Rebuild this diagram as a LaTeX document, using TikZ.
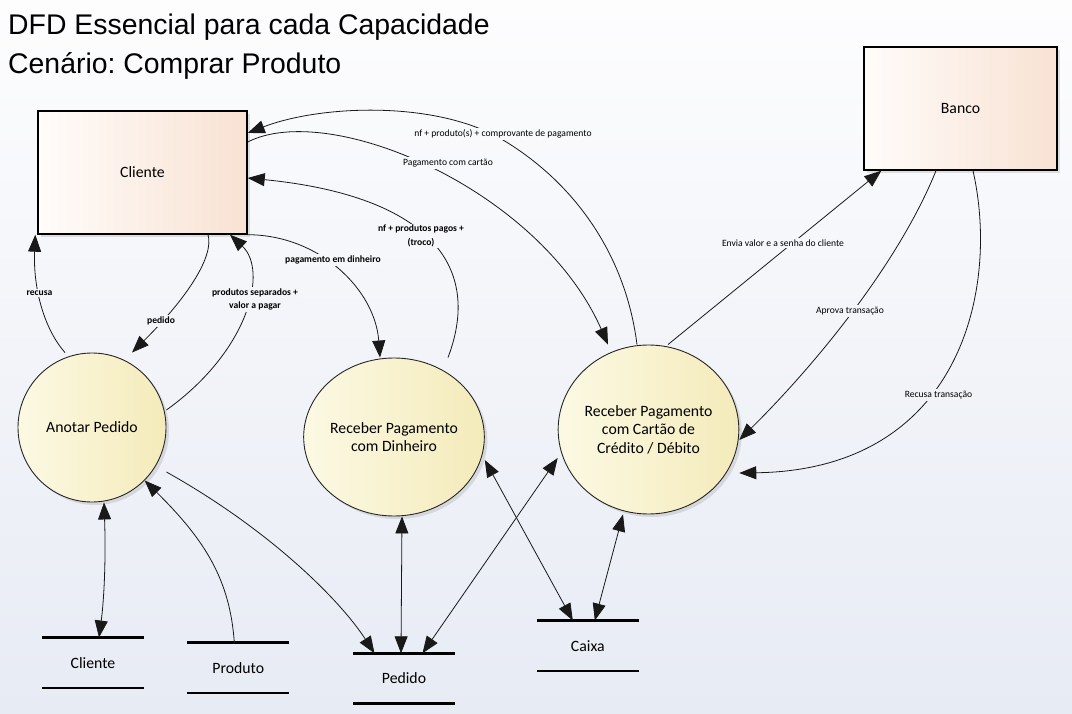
\documentclass[tikz,border=0pt]{standalone}
\usepackage{fontspec}
\setmainfont{Carlito}
\newfontfamily\titlefont{Liberation Sans}
\usetikzlibrary{arrows.meta,shadows,shapes.geometric}
\definecolor{bgT}{HTML}{FDFDFE}
\definecolor{bgB}{HTML}{E7EBF4}
\definecolor{boxL}{HTML}{FFFCFA}
\definecolor{boxR}{HTML}{F8E2D3}
\definecolor{cirL}{HTML}{FCF9E4}
\definecolor{cirR}{HTML}{F4EBBA}
\frenchspacing
\begin{document}
\begin{tikzpicture}[x=1pt,y=-1pt,
  ent/.style={draw=black, line width=1.4pt, rectangle, left color=boxL, right color=boxR,
    inner sep=0, font=\fontsize{15.75}{18.5}\selectfont,
    drop shadow={opacity=0.22,shadow xshift=3pt,shadow yshift=-3pt}},
  proc/.style={draw=black!85, line width=0.9pt, ellipse, left color=cirL, right color=cirR,
    inner sep=0, align=center, font=\fontsize{15.75}{18.5}\selectfont,
    drop shadow={opacity=0.22,shadow xshift=3pt,shadow yshift=-3pt}},
  store/.style={inner sep=0, minimum width=101.5pt, minimum height=50pt,
    font=\fontsize{15.75}{18.5}\selectfont},
  sline/.style={line width=2.8pt, line cap=butt},
  flow/.style={line width=0.8pt, draw=black!90},
  arr/.style={flow, -{Triangle[length=17pt,width=13pt]}},
  darr/.style={flow, {Triangle[length=17pt,width=13pt]}-{Triangle[length=17pt,width=13pt]}},
  lbl/.style={font=\fontsize{9.6}{13}\selectfont, inner sep=1.5pt, fill=bgB!#1!bgT, align=center},
  lblb/.style={lbl=#1, font=\bfseries\fontsize{9.6}{13.5}\selectfont},
]
\useasboundingbox (0,0) rectangle (1072,714);
\shade[top color=bgT, bottom color=bgB] (0,0) rectangle (1072,714);

% titles
\node[anchor=base west, inner sep=0, font=\titlefont\fontsize{28.4}{35}\selectfont] (t1) at (8,35) {DFD Essencial para cada Capacidade};
\node[anchor=base west, inner sep=0, font=\titlefont\fontsize{28.4}{35}\selectfont] (t2) at (8,74) {Cenário: Comprar Produto};

% entities
\node[ent, minimum width=209pt, minimum height=123pt] (cli) at (142.5,172.5) {Cliente};
\node[ent, minimum width=193pt, minimum height=123pt] (banco) at (960.5,108.5) {Banco};

% processes
\node[proc, minimum width=148pt, minimum height=149pt] (anot) at (92,427.5) {Anotar Pedido};
\node[proc, minimum width=154pt, minimum height=158pt] (din) at (394,437) {Receber Pagamento\\com Dinheiro};
\node[proc, minimum width=175pt, minimum height=169pt] (cart) at (648.5,429.5) {Receber Pagamento\\com Cartão de\\Crédito / Débito};

% stores
\node[store] (sCli) at (93,662.7) {Cliente};
\node[store] (sProd) at (238.3,667.7) {Produto};
\node[store] (sPed) at (404,678.5) {Pedido};
\node[store] (sCai) at (587.8,645.7) {Caixa};
\foreach \s in {sCli,sProd,sPed,sCai}{
  \draw[sline] (\s.north west) -- (\s.north east) (\s.south west) -- (\s.south east);
}

% flows
\draw[arr] ([xshift=65.5pt]cli.south) .. controls (214,255) and (190,295) .. ([xshift=40pt]anot.north);
\draw[arr] ([xshift=-27pt]anot.north) .. controls (45,330) and (33,290) .. ([xshift=-2pt]cli.south west);
\draw[arr] ([yshift=17.5pt]anot.east) .. controls (250,350) and (268,270) .. ([xshift=87.5pt]cli.south);
\draw[arr] (cli.south east) .. controls (320,235) and (375,290) .. ([xshift=-14pt]din.north);
\draw[arr] ([xshift=54pt]din.north) .. controls (485,260) and (420,195) .. ([yshift=-5.5pt]cli.east);
\draw[arr] ([yshift=30.5pt]cli.east) .. controls (330,100) and (540,190) .. ([xshift=-40.5pt]cart.north);
\coordinate (mc) at (503,140);
\draw[arr] ([xshift=-11.5pt]cart.north) .. controls (625,250) and (570,180) .. (mc)
   .. controls (436,100) and (320,105) .. ([yshift=39.5pt]cli.east);
\draw[arr] ([xshift=19.5pt]cart.north) -- ([xshift=18pt]banco.south west);
\draw[arr] ([xshift=-24.5pt]banco.south) .. controls (900,260) and (820,360) .. ([yshift=-10.5pt]cart.east);
\draw[arr] ([xshift=12.5pt]banco.south) .. controls (1000,290) and (960,470) .. ([yshift=-43.5pt]cart.east);

\draw[darr] ([xshift=12pt]anot.south) .. controls (106,560) and (104,600) .. ([xshift=6pt]sCli.north);
\draw[arr] ([xshift=-4pt]sProd.north) .. controls (230,580) and (205,540) .. (anot.south east);
\draw[arr] ([yshift=-44.5pt]anot.east) .. controls (270,530) and (340,600) .. ([xshift=-29.5pt]sPed.north);
\draw[darr] ([xshift=8pt]din.south) -- ([xshift=-3pt]sPed.north);
\draw[darr] ([yshift=-28.5pt]cart.west) -- ([xshift=18.5pt]sPed.north);
\draw[darr] ([yshift=-23pt]din.east) -- ([xshift=-15pt]sCai.north);
\draw[darr] ([xshift=-25.5pt]cart.south) -- ([xshift=7pt]sCai.north);

% labels
\node[lbl=19] (l1) at (503,134) {nf + produto(s) + comprovante de pagamento};
\node[lbl=23] (l2) at (448,163) {Pagamento com cartão};
\node[lblb=33] (l3) at (421,236) {nf + produtos pagos +\\(troco)};
\node[lblb=36] (l4) at (333,260) {pagamento em dinheiro};
\node[lblb=41] (l5) at (39.5,293) {recusa};
\node[lblb=45] (l6) at (161,321) {pedido};
\node[lblb=42] (l7) at (255,299.5) {produtos separados +\\valor a pagar};
\node[lbl=34] (l8) at (783,243) {Envia valor e a senha do cliente};
\node[lbl=44] (l9) at (850,311) {Aprova transação};
\node[lbl=55] (l10) at (938.5,395) {Recusa transação};
\end{tikzpicture}
\end{document}
